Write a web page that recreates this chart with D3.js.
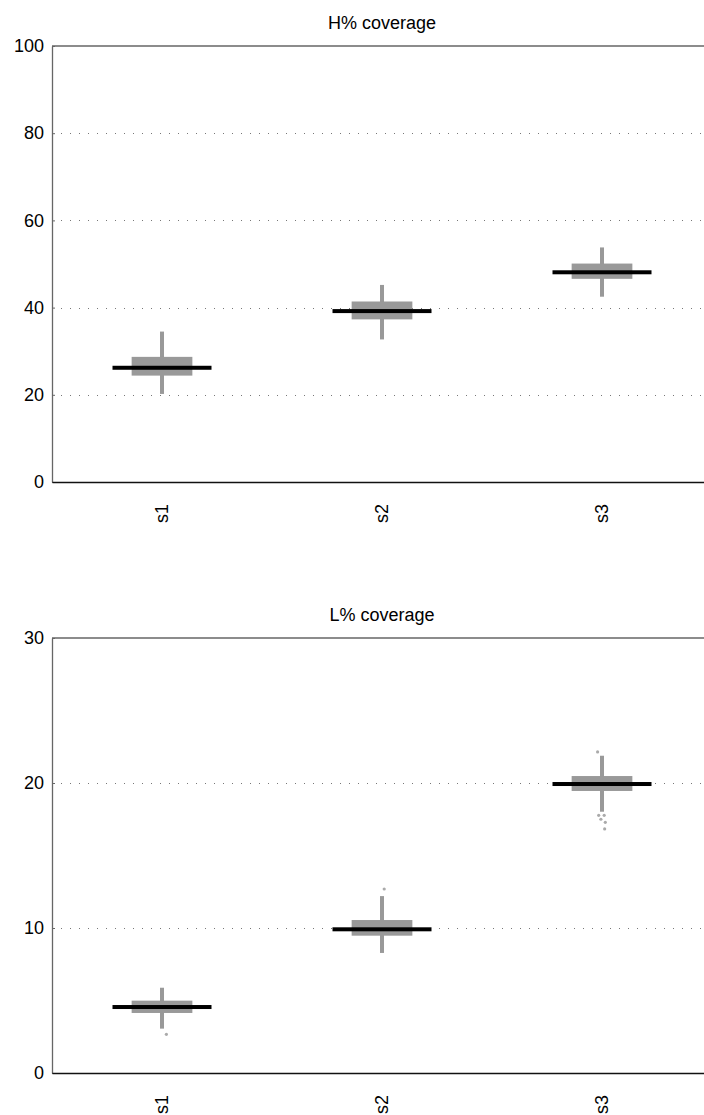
<!DOCTYPE html>
<html><head><meta charset="utf-8">
<script src="https://cdn.jsdelivr.net/npm/d3@7"></script>
<style>
html,body{margin:0;padding:0;background:#fff;}
svg{display:block;font-family:"Liberation Sans",Arial,sans-serif;}
</style></head>
<body>
<svg id="chart" width="704" height="1115"></svg>
<script>
const categories = ["s1", "s2", "s3"];

// Panel 1: H% coverage
const hTitle = "H% coverage";
const hTicks = [0, 20, 40, 60, 80, 100];
const hWhiskerLow  = [20.2, 32.7, 42.5];
const hBoxLow      = [24.4, 37.3, 46.6];
const hMedian      = [26.2, 39.2, 48.1];
const hBoxHigh     = [28.7, 41.4, 50.1];
const hWhiskerHigh = [34.5, 45.2, 53.8];
const hOutliers    = [[], [], []];

// Panel 2: L% coverage
const lTitle = "L% coverage";
const lTicks = [0, 10, 20, 30];
const lWhiskerLow  = [3.06, 8.28, 18.02];
const lBoxLow      = [4.14, 9.47, 19.45];
const lMedian      = [4.55, 9.91, 19.93];
const lBoxHigh     = [4.99, 10.55, 20.48];
const lWhiskerHigh = [5.88, 12.2, 21.88];
// outlier values with small horizontal jitter (fraction of category width)
const lOutliers    = [
  [[2.67, 0.02]],
  [[12.69, 0.01]],
  [[22.14, -0.02], [17.77, -0.015], [17.77, 0.01], [17.5, -0.005], [17.29, 0.015], [16.83, 0.012]]
];

const svg = d3.select("#chart");

function panel(cfg) {
  const left = 52, right = 712;
  const top = cfg.top, bottom = cfg.bottom;
  const g = svg.append("g");
  const x = d3.scaleBand().domain(categories).range([left, right]);
  const y = d3.scaleLinear().domain(cfg.domain).range([bottom, top]);
  const bw = x.bandwidth();
  const cx = c => x(c) + bw / 2;

  // grid lines (dotted)
  g.selectAll("line.grid").data(cfg.ticks.filter(t => t > cfg.domain[0] && t < cfg.domain[1]))
    .join("line").attr("class", "grid")
    .attr("x1", left).attr("x2", right)
    .attr("y1", d => Math.round(y(d)) + 0.5).attr("y2", d => Math.round(y(d)) + 0.5)
    .attr("stroke", "#777").attr("stroke-width", 1)
    .attr("stroke-dasharray", "1,8");

  // top border
  g.append("line").attr("x1", left).attr("x2", right)
    .attr("y1", y(cfg.domain[1])).attr("y2", y(cfg.domain[1]))
    .attr("stroke", "#666").attr("stroke-width", 1.3);

  // y axis
  const yAxis = d3.axisLeft(y).tickValues(cfg.ticks).tickSize(-3).tickPadding(8).tickSizeOuter(0);
  const ya = g.append("g").attr("transform", `translate(${left},0)`).call(yAxis);
  ya.select(".domain").attr("stroke", "#666").attr("stroke-width", 1.3);
  ya.selectAll(".tick line").attr("stroke", "#666");
  ya.selectAll(".tick text").attr("font-size", 18).attr("fill", "#000")
    .attr("font-family", "'Liberation Sans', Arial, sans-serif");

  // x axis
  const xAxis = d3.axisBottom(x).tickSize(0).tickPadding(0);
  const xa = g.append("g").attr("transform", `translate(0,${bottom})`).call(xAxis);
  xa.select(".domain").attr("stroke", "#111").attr("stroke-width", 1.6);
  xa.selectAll(".tick text").attr("font-size", 18).attr("fill", "#000")
    .attr("font-family", "'Liberation Sans', Arial, sans-serif")
    .attr("text-anchor", "end")
    .attr("dy", "0.35em")
    .attr("transform", "translate(0,22) rotate(-90)");

  // title
  g.append("text").attr("x", (left + right) / 2).attr("y", top - 17)
    .attr("text-anchor", "middle").attr("font-size", 18).attr("fill", "#000")
    .text(cfg.title);

  const d = categories.map((c, i) => ({c, i}));

  // whiskers
  g.selectAll("rect.wh").data(d).join("rect").attr("class", "wh")
    .attr("x", e => cx(e.c) - 2).attr("width", 4)
    .attr("y", e => y(cfg.wHigh[e.i])).attr("height", e => y(cfg.wLow[e.i]) - y(cfg.wHigh[e.i]))
    .attr("fill", "#999");
  // boxes
  g.selectAll("rect.box").data(d).join("rect").attr("class", "box")
    .attr("x", e => cx(e.c) - bw * 0.138).attr("width", bw * 0.276)
    .attr("y", e => y(cfg.bHigh[e.i])).attr("height", e => y(cfg.bLow[e.i]) - y(cfg.bHigh[e.i]))
    .attr("fill", "#999");
  // medians
  g.selectAll("rect.med").data(d).join("rect").attr("class", "med")
    .attr("x", e => cx(e.c) - bw * 0.225).attr("width", bw * 0.45)
    .attr("y", e => y(cfg.med[e.i]) - 2).attr("height", 4)
    .attr("fill", "#000");
  // outliers
  const outs = [];
  cfg.outliers.forEach((arr, i) => arr.forEach(o => outs.push({c: categories[i], v: o[0], j: o[1]})));
  g.selectAll("circle.out").data(outs).join("circle").attr("class", "out")
    .attr("cx", o => cx(o.c) + o.j * bw).attr("cy", o => y(o.v))
    .attr("r", 1.6).attr("fill", "#aaa");
}

panel({top: 46, bottom: 482, domain: [0, 100], ticks: hTicks, title: hTitle,
  wLow: hWhiskerLow, bLow: hBoxLow, med: hMedian, bHigh: hBoxHigh, wHigh: hWhiskerHigh, outliers: hOutliers});
panel({top: 638, bottom: 1073, domain: [0, 30], ticks: lTicks, title: lTitle,
  wLow: lWhiskerLow, bLow: lBoxLow, med: lMedian, bHigh: lBoxHigh, wHigh: lWhiskerHigh, outliers: lOutliers});
</script>
</body></html>
